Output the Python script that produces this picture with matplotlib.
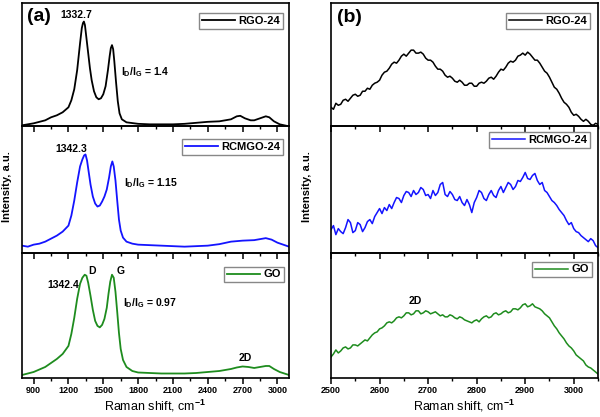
import matplotlib
matplotlib.use('Agg')
import matplotlib.pyplot as plt
from matplotlib.ticker import MultipleLocator

plt.rcParams['font.family'] = ['Liberation Sans', 'DejaVu Sans']
plt.rcParams['font.weight'] = 'bold'
plt.rcParams['mathtext.fontset'] = 'custom'
plt.rcParams['mathtext.bf'] = 'Liberation Sans:bold'
plt.rcParams['mathtext.rm'] = 'Liberation Sans:bold'
plt.rcParams['mathtext.default'] = 'bf'

# ---- panel (a): full spectra ----
rgo_w = [800, 900, 1000, 1050, 1100, 1150, 1200, 1225, 1250, 1275, 1300, 1315, 1325, 1333, 1342,
         1355, 1370, 1385, 1400, 1420, 1440, 1460, 1480, 1500, 1520, 1540, 1555, 1565, 1575, 1585,
         1595, 1610, 1625, 1640, 1660, 1700, 1800, 1900, 2000, 2100, 2200, 2300, 2400, 2500, 2600,
         2650, 2680, 2720, 2770, 2800, 2850, 2900, 2930, 2970, 3020, 3100]
rgo_i = [1, 3, 6, 9, 11, 14, 19, 26, 37, 56, 83, 98, 103, 104.5, 101,
         88, 73, 58, 46, 35, 29, 27, 28, 32, 40, 56, 70, 78, 81, 77,
         65, 44, 25, 13, 7, 4, 2.5, 2, 2, 2, 2.5, 3.5, 4.5, 5, 7,
         10, 10.5, 8, 6, 6, 8, 10, 9, 5, 2, 0]

rcm_w = [800, 850, 900, 950, 1000, 1050, 1100, 1150, 1200, 1225, 1250, 1275, 1300, 1320, 1335, 1347,
         1360, 1375, 1390, 1410, 1430, 1450, 1470, 1490, 1510, 1530, 1550, 1565, 1578, 1590, 1605,
         1620, 1635, 1650, 1670, 1700, 1750, 1800, 1900, 2000, 2100, 2200, 2300, 2400, 2500, 2600,
         2700, 2800, 2900, 2950, 3000, 3050, 3100]
rcm_i = [7, 6, 8, 9, 11, 14, 17, 21, 27, 37, 52, 70, 86, 93, 97, 98,
         92, 80, 68, 56, 49, 46, 47, 51, 56, 63, 75, 86, 91, 86, 72,
         52, 33, 22, 15, 11, 9, 8, 7.5, 7, 6.5, 6, 6.5, 7, 8.5, 11,
         12, 12.5, 14.5, 13, 10, 8, 6]

go_w = [800, 900, 1000, 1050, 1100, 1150, 1200, 1225, 1250, 1275, 1300, 1320, 1340, 1355, 1370,
        1390, 1410, 1430, 1450, 1470, 1490, 1510, 1530, 1545, 1560, 1575, 1590, 1605, 1620, 1635,
        1650, 1670, 1700, 1750, 1800, 1900, 2000, 2100, 2200, 2300, 2400, 2500, 2600, 2650, 2700,
        2750, 2800, 2850, 2900, 2930, 2970, 3020, 3100]
go_i = [3, 6, 11, 15, 19, 24, 32, 44, 60, 79, 94, 100, 103, 102, 95,
        82, 68, 57, 52, 50.5, 53, 59, 70, 84, 96, 103, 100, 86, 66, 45,
        29, 18, 11, 7, 5.5, 5, 4.5, 4.5, 4.5, 5, 6, 7, 9, 10.5, 11.5,
        11, 10, 11, 12, 12, 9, 6, 3]

# ---- panel (b): 2D region, 2500..3050 step 5 ----
w2d = list(range(2500, 3051, 5))
rgo_2d = [19, 17, 23, 21, 22, 26, 27, 25, 28, 31, 32, 30, 31, 35, 35, 38, 37, 41, 43, 44,
          46, 51, 54, 55, 58, 62, 64, 63, 66, 70, 72, 70, 73, 76, 76, 73, 73, 74, 72, 68,
          66, 66, 64, 60, 57, 57, 55, 51, 49, 50, 48, 45, 44, 46, 44, 41, 41, 43, 43, 40,
          40, 43, 44, 43, 45, 48, 49, 47, 50, 54, 57, 56, 59, 63, 65, 64, 66, 70, 71, 73,
          71, 74, 72, 69, 66, 66, 63, 59, 55, 53, 49, 44, 39, 37, 33, 28, 24, 22, 19, 14,
          11, 12, 10, 7, 5, 7, 5, 2, 1, 3, 2]
rcm_2d = [23, 27, 18, 24, 21, 19, 25, 33, 30, 20, 22, 30, 28, 21, 25, 31, 33, 29, 36, 40,
          44, 39, 45, 42, 48, 44, 50, 55, 54, 50, 57, 61, 60, 56, 62, 58, 60, 65, 63, 57,
          58, 54, 62, 57, 60, 68, 70, 58, 56, 61, 58, 53, 52, 56, 50, 47, 53, 48, 40, 50,
          55, 62, 60, 54, 52, 58, 62, 57, 55, 62, 66, 60, 65, 70, 68, 63, 66, 72, 71, 75,
          80, 74, 73, 77, 79, 72, 68, 70, 62, 60, 56, 52, 50, 47, 43, 40, 37, 32, 28, 30,
          24, 21, 20, 17, 15, 13, 11, 14, 12, 7, 5]
go_2d = [21, 24, 28, 25, 27, 30, 31, 29, 30, 33, 33, 32, 34, 36, 38, 37, 40, 43, 45, 46,
         49, 50, 52, 55, 56, 55, 57, 60, 61, 60, 62, 65, 65, 63, 64, 67, 67, 64, 65, 67,
         66, 64, 65, 66, 64, 62, 63, 61, 61, 63, 62, 60, 59, 61, 60, 58, 57, 56, 55, 57,
         58, 56, 59, 61, 62, 60, 61, 64, 65, 63, 64, 66, 67, 65, 66, 69, 69, 68, 70, 73,
         74, 71, 72, 74, 71, 70, 69, 67, 64, 62, 60, 56, 52, 49, 45, 42, 39, 35, 32, 30,
         27, 23, 21, 19, 17, 13, 11, 10, 8, 6, 4]

names = ['RGO-24', 'RCMGO-24', 'GO']
colors = ['black', '#1414ff', '#1e8c1e']
ylims = [123, 126, 125]

fig = plt.figure(figsize=(6, 4.17), dpi=100)
gs_a = fig.add_gridspec(3, 1, left=0.0367, right=0.4817, bottom=0.0935, top=0.9928,
                        hspace=0, height_ratios=ylims)
gs_b = fig.add_gridspec(3, 1, left=0.5517, right=0.9967, bottom=0.0935, top=0.9928,
                        hspace=0, height_ratios=ylims)

leg_a = [(6, 10), (6, 13), (5, 14)]
leg_b = [(8, 10), (8, 6), (6, 9)]


def style(ax, i, xlim, major, minor, leg_off):
    ax.set_facecolor('none')
    ax.set_xlim(*xlim)
    ax.set_ylim(0, ylims[i])
    ax.set_yticks([])
    ax.xaxis.set_major_locator(MultipleLocator(major))
    ax.xaxis.set_minor_locator(MultipleLocator(minor))
    ax.tick_params(axis='x', which='major', direction='out', length=4, width=1.1, labelsize=6.5, pad=2)
    ax.tick_params(axis='x', which='minor', direction='out', length=2.5, width=1)
    if i < 2:
        ax.tick_params(axis='x', labelbottom=False)
    for s in ax.spines.values():
        s.set_linewidth(1.2)
    bb = ax.get_position()
    wpx = bb.width * 600
    hpx = bb.height * 417
    ax.legend(loc='upper right', bbox_to_anchor=(1 - leg_off[0] / wpx, 1 - leg_off[1] / hpx),
              borderaxespad=0, fontsize=8, frameon=True, fancybox=False, edgecolor='#888888',
              framealpha=1, handlelength=3.0, handletextpad=0.3, borderpad=0.25)


a_w = [rgo_w, rcm_w, go_w]
a_i = [rgo_i, rcm_i, go_i]
b_i = [rgo_2d, rcm_2d, go_2d]
axes_a = []
axes_b = []
for i in range(3):
    ax = fig.add_subplot(gs_a[i])
    ax.plot(a_w[i], a_i[i], color=colors[i], lw=1.3, label=names[i])
    style(ax, i, (800, 3100), 300, 150, leg_a[i])
    axes_a.append(ax)
    bx = fig.add_subplot(gs_b[i])
    bx.plot(w2d, b_i[i], color=colors[i], lw=1.1, label=names[i])
    style(bx, i, (2500, 3050), 100, 50, leg_b[i])
    axes_b.append(bx)

# annotations panel (a)
fs = 7.5
axes_a[0].text(946, 110, '(a)', fontsize=14, ha='center', va='center')
axes_a[0].text(1265, 111, '1332.7', fontsize=fs, ha='center', va='center')
axes_a[0].text(1652, 54, 'I$_D$/I$_G$ = 1.4', fontsize=fs, ha='left', va='center')
axes_a[1].text(1226, 103, '1342.3', fontsize=fs, ha='center', va='center')
axes_a[1].text(1678, 69.5, 'I$_D$/I$_G$ = 1.15', fontsize=fs, ha='left', va='center')
axes_a[2].text(1402, 106.5, 'D', fontsize=fs, ha='center', va='center')
axes_a[2].text(1652, 106.5, 'G', fontsize=fs, ha='center', va='center')
axes_a[2].text(1157, 93, '1342.4', fontsize=fs, ha='center', va='center')
axes_a[2].text(1669, 74.5, 'I$_D$/I$_G$ = 0.97', fontsize=fs, ha='left', va='center')
axes_a[2].text(2719, 19.5, '2D', fontsize=fs, ha='center', va='center')

# annotations panel (b)
axes_b[0].text(2537, 109, '(b)', fontsize=14, ha='center', va='center')
axes_b[2].text(2673, 77, '2D', fontsize=fs, ha='center', va='center')

axes_a[2].set_xlabel('Raman shift, cm$^{-1}$', fontsize=9, labelpad=2)
axes_b[2].set_xlabel('Raman shift, cm$^{-1}$', fontsize=9, labelpad=2)
fig.text(7 / 600, 1 - 187 / 417, 'Intensity, a.u.', rotation=90, fontsize=8, ha='center', va='center')
fig.text(307 / 600, 1 - 187 / 417, 'Intensity, a.u.', rotation=90, fontsize=8, ha='center', va='center')

fig.savefig('out.png', dpi=100)
